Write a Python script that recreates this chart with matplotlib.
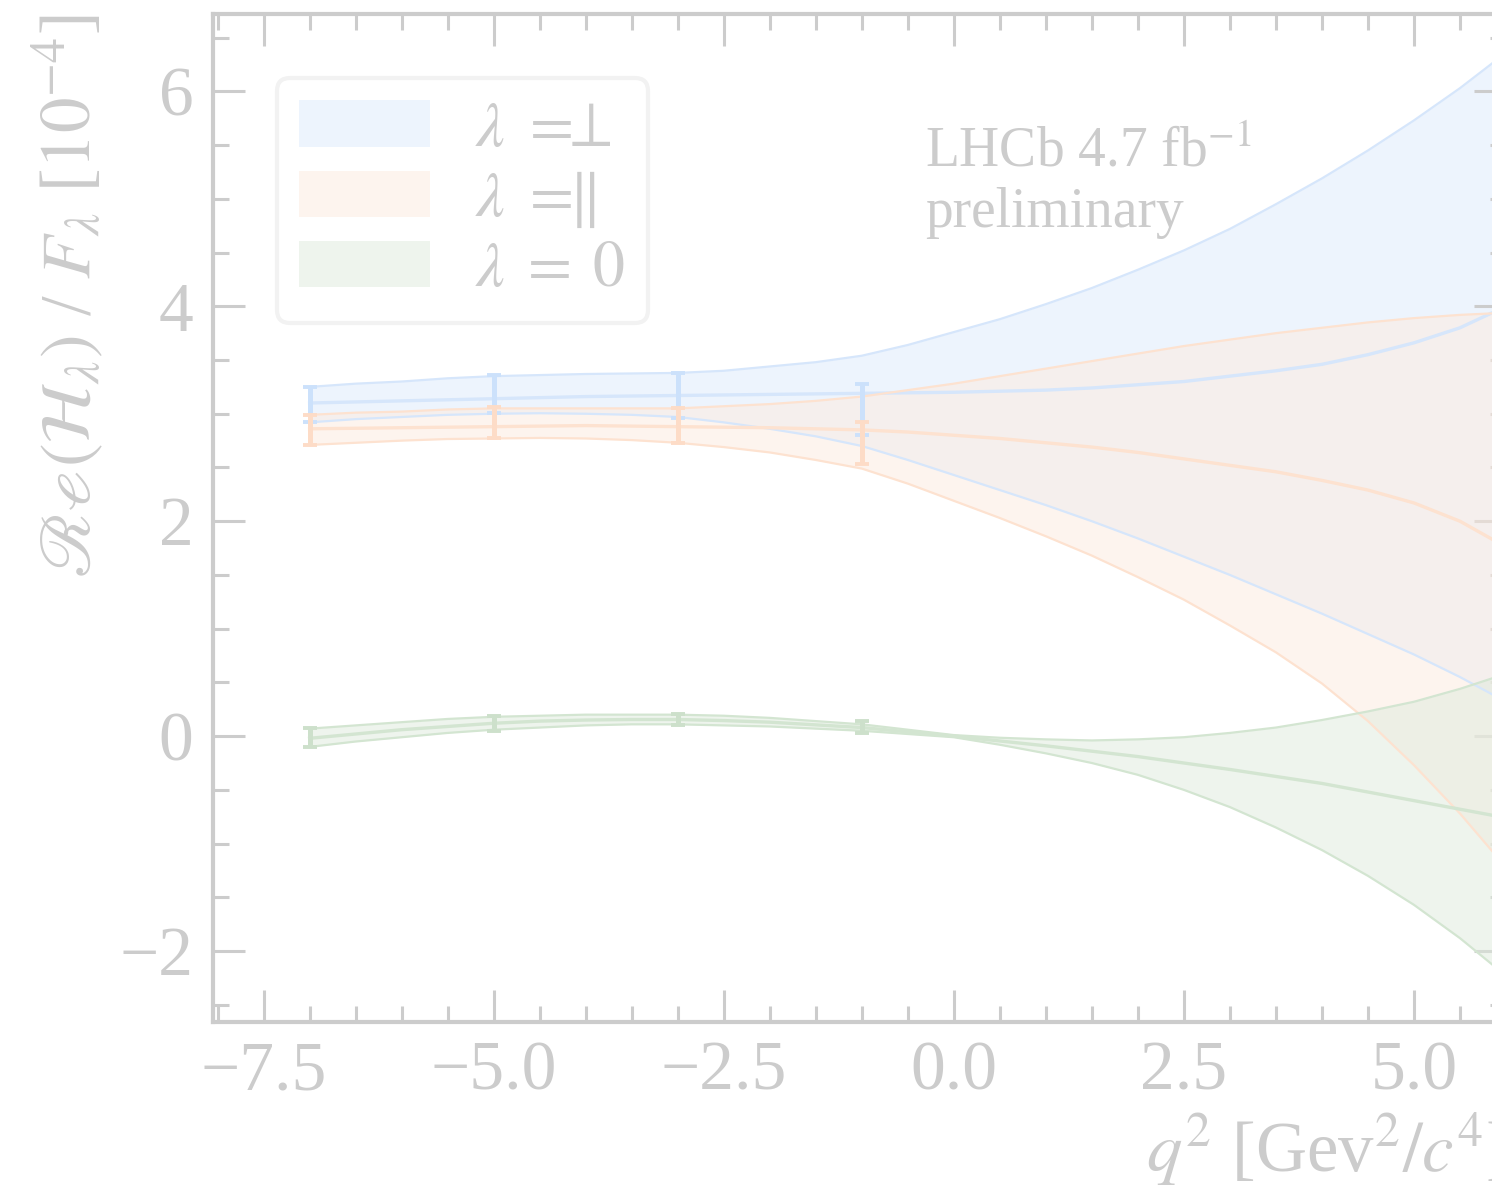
import numpy as np
import matplotlib
matplotlib.use("Agg")
import matplotlib.pyplot as plt

plt.rcParams['font.family'] = ['Liberation Serif', 'DejaVu Serif']
plt.rcParams['mathtext.fontset'] = 'stix'

# ---------------- data ----------------
q2 = [-7, -6.5, -6, -5.5, -5, -4.5, -4, -3.5, -3, -2.5, -2, -1.5, -1, -0.5,
      0, 0.5, 1, 1.5, 2, 2.5, 3, 3.5, 4, 4.5, 5, 5.5, 6]

perp_up  = [3.25, 3.28, 3.30, 3.33, 3.35, 3.36, 3.37, 3.375, 3.38, 3.40, 3.44, 3.48, 3.54, 3.64,
            3.76, 3.88, 4.02, 4.17, 4.34, 4.52, 4.72, 4.95, 5.19, 5.45, 5.73, 6.03, 6.36]
perp_mid = [3.10, 3.11, 3.12, 3.13, 3.14, 3.15, 3.16, 3.165, 3.17, 3.175, 3.18, 3.185, 3.19, 3.195,
            3.20, 3.21, 3.22, 3.24, 3.27, 3.30, 3.35, 3.40, 3.46, 3.55, 3.66, 3.80, 4.00]
perp_lo  = [2.92, 2.95, 2.97, 2.99, 3.00, 3.005, 3.00, 2.99, 2.97, 2.92, 2.86, 2.79, 2.70, 2.57,
            2.43, 2.29, 2.15, 2.00, 1.84, 1.67, 1.50, 1.32, 1.14, 0.95, 0.76, 0.55, 0.32]

par_up  = [2.99, 3.01, 3.02, 3.04, 3.05, 3.05, 3.05, 3.05, 3.05, 3.07, 3.09, 3.12, 3.16, 3.22,
           3.28, 3.35, 3.42, 3.49, 3.56, 3.63, 3.69, 3.75, 3.80, 3.85, 3.89, 3.92, 3.94]
par_mid = [2.86, 2.865, 2.87, 2.875, 2.88, 2.885, 2.89, 2.885, 2.88, 2.875, 2.87, 2.86, 2.85, 2.83,
           2.80, 2.77, 2.73, 2.69, 2.64, 2.58, 2.52, 2.46, 2.38, 2.29, 2.17, 2.00, 1.76]
par_lo  = [2.71, 2.73, 2.75, 2.765, 2.77, 2.775, 2.77, 2.755, 2.73, 2.69, 2.64, 2.57, 2.49, 2.35,
           2.19, 2.03, 1.86, 1.68, 1.48, 1.27, 1.03, 0.78, 0.49, 0.14, -0.27, -0.72, -1.22]

zero_up  = [0.07, 0.10, 0.13, 0.16, 0.18, 0.19, 0.20, 0.20, 0.20, 0.19, 0.17, 0.14, 0.11, 0.06,
            0.01, -0.015, -0.03, -0.04, -0.03, -0.01, 0.03, 0.08, 0.15, 0.23, 0.32, 0.44, 0.58]
zero_mid = [-0.02, 0.02, 0.06, 0.09, 0.12, 0.14, 0.15, 0.155, 0.155, 0.145, 0.13, 0.105, 0.08, 0.04,
            0.0, -0.045, -0.09, -0.14, -0.19, -0.25, -0.31, -0.375, -0.44, -0.52, -0.60, -0.68, -0.76]
zero_lo  = [-0.10, -0.05, -0.01, 0.03, 0.06, 0.08, 0.10, 0.11, 0.11, 0.10, 0.09, 0.07, 0.05, 0.02,
            -0.01, -0.08, -0.16, -0.25, -0.36, -0.50, -0.66, -0.85, -1.06, -1.30, -1.57, -1.88, -2.23]

# data points (error bars)
q2_pts = [-7, -5, -3, -1]
perp_val = [3.084, 3.18, 3.17, 3.04]
perp_err = [0.163, 0.177, 0.205, 0.237]
par_val = [2.85, 2.92, 2.89, 2.73]
par_err = [0.14, 0.145, 0.162, 0.195]
zero_val = [-0.013, 0.117, 0.153, 0.085]
zero_err = [0.087, 0.07, 0.052, 0.055]

labels = [r'$\lambda\ {=}\!\!\!\perp$', r'$\lambda\ {=}\!\!\!\parallel$', r'$\lambda\;{=}\;0$']

# ---------------- style ----------------
txt = '#cccccc'
fill_c = ['#ddebfd', '#fdebdf', '#dfebdd']
line_c = ['#d6e6fb', '#fde2d0', '#d3e5d1']
err_c = ['#cce1fb', '#fddcc7', '#cde0cb']

fig = plt.figure(figsize=(14.92, 11.91), dpi=100)
ax = fig.add_axes([213/1492, 169/1191, 1293/1492, 1008/1191])

bands = [(perp_lo, perp_mid, perp_up), (par_lo, par_mid, par_up), (zero_lo, zero_mid, zero_up)]
pts = [(perp_val, perp_err), (par_val, par_err), (zero_val, zero_err)]

handles = []
for i, (lo, mid, up) in enumerate(bands):
    h = ax.fill_between(q2, lo, up, color=fill_c[i], alpha=0.5, lw=0, zorder=1 + i)
    ax.plot(q2, up, color=line_c[i], lw=1.6, zorder=4 + i)
    ax.plot(q2, lo, color=line_c[i], lw=1.6, zorder=4 + i)
    ax.plot(q2, mid, color=line_c[i], lw=2.4, zorder=4 + i)
    handles.append(h)

for i, (v, e) in enumerate(pts):
    ax.errorbar(q2_pts, v, yerr=e, fmt='none', ecolor=err_c[i], elinewidth=3.6,
                capsize=4.7, capthick=2.8, zorder=10 + i)

ax.set_xlim(-8.05, 6.0)
ax.set_ylim(-2.66, 6.72)
ax.set_xticks([-7.5, -5.0, -2.5, 0.0, 2.5, 5.0])
ax.set_xticks(np.arange(-8.0, 6.01, 0.5), minor=True)
ax.set_yticks([-2, 0, 2, 4, 6])
ax.set_yticks(np.arange(-2.5, 6.6, 0.5), minor=True)

for s in ax.spines.values():
    s.set_color(txt)
    s.set_linewidth(3.0)

ax.tick_params(which='both', direction='in', top=True, right=True, colors=txt,
               labelcolor=txt, labelsize=50, pad=14)
ax.tick_params(which='major', length=23, width=2.2)
ax.tick_params(which='minor', length=11.5, width=2.2)

ax.set_xlabel(r'$q^2$ [Gev$^2/c^4$]', loc='right', fontsize=51, color=txt, labelpad=4)
ax.set_ylabel(r'$\mathscr{R}\mathscr{e}(\mathcal{H}_\lambda)$ / $F_\lambda$ [$10^{-4}$]', loc='top',
              fontsize=51, color=txt, labelpad=10)

leg = ax.legend(handles, labels, loc='upper left', fontsize=46, frameon=True,
                fancybox=True, borderaxespad=1.0, handlelength=2.05, handleheight=0.75,
                handletextpad=0.7, labelspacing=0.16, borderpad=0.35)
for t in leg.get_texts():
    t.set_color(txt)
fr = leg.get_frame()
fr.set_edgecolor('#f2f2f2')
fr.set_linewidth(3.0)
fr.set_alpha(1.0)
for p in leg.legend_handles:
    p.set_alpha(0.5)

ax.text(0.5507, 0.888, 'LHCb 4.7 fb$^{-1}$\npreliminary', transform=ax.transAxes,
        fontsize=40, color=txt, ha='left', va='top')

fig.savefig('out.png', dpi=100)
